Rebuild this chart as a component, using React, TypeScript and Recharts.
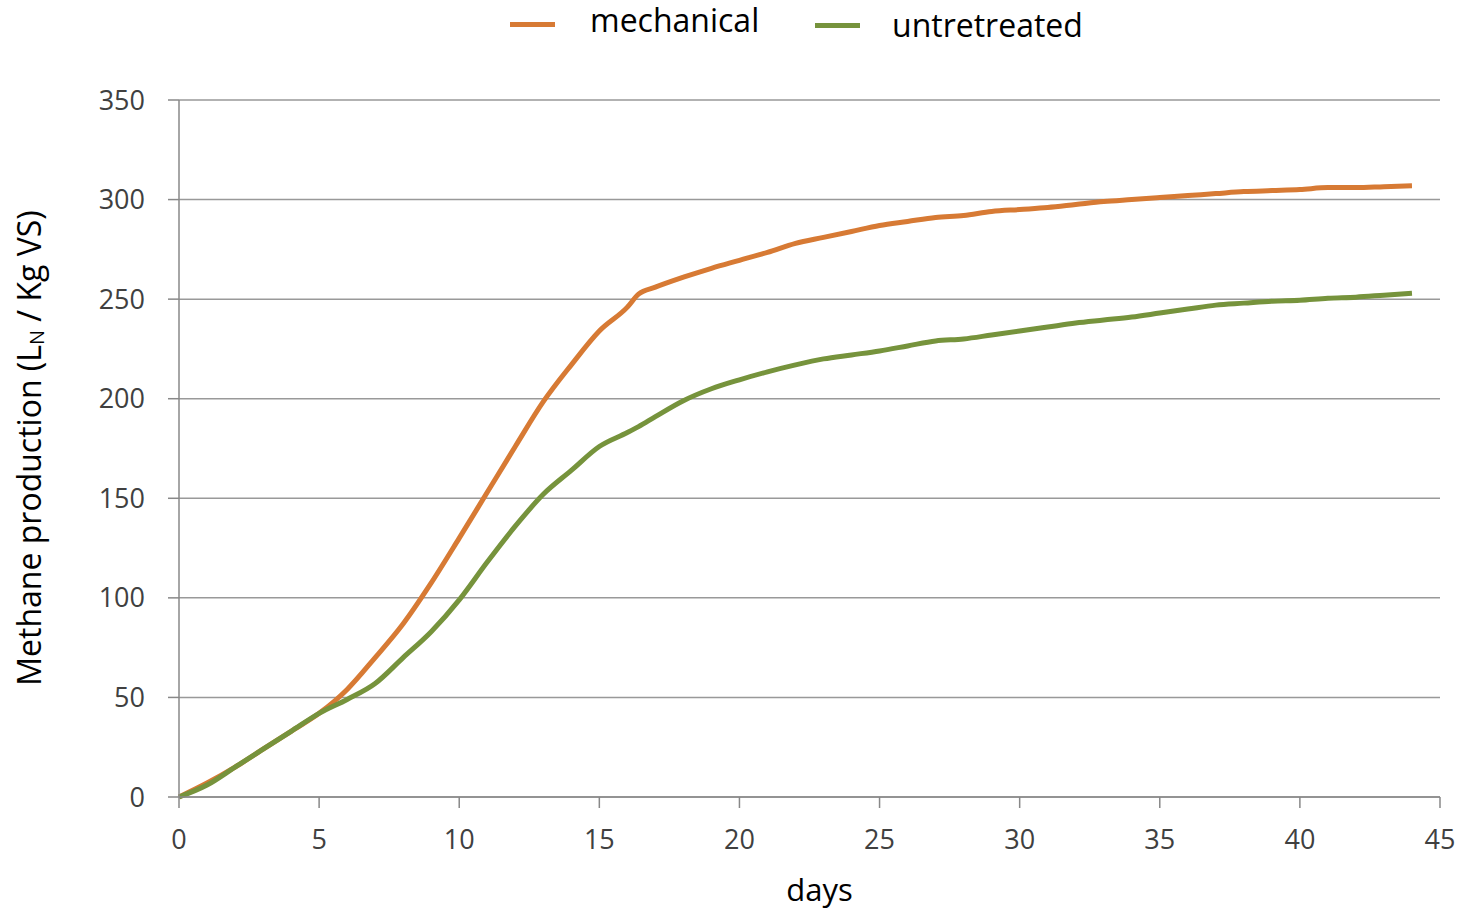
import React from "react";
import { LineChart, Line, XAxis, YAxis, CartesianGrid, Legend, Label } from "recharts";

const days = [0, 1, 2, 3, 4, 5, 6, 7, 8, 9, 10, 11, 12, 13, 14, 15, 16, 16.4, 17, 18, 19, 20, 21, 22, 23, 24, 25, 26, 27, 28, 29, 30, 31, 32, 33, 34, 35, 36, 37, 38, 39, 40, 41, 42, 43, 44];
const mechanical = [0, 7, 15, 24, 33, 42, 54, 70, 87, 107.5, 130, 153, 176, 198.5, 217, 234, 246, 252.5, 256, 261, 265.5, 269.5, 273.5, 278, 281, 284, 287, 289, 291, 292, 294, 295, 296, 297.5, 299, 300, 301, 302, 303, 304, 304.5, 305, 306, 306, 306.5, 307];
const untreated = [0, 6, 15, 24, 33, 42, 49, 57, 70, 83, 99, 118, 136, 152, 164, 176, 183, 186, 191, 199, 205, 209.5, 213.5, 217, 220, 222, 224, 226.5, 229, 230, 232, 234, 236, 238, 239.5, 241, 243, 245, 247, 248, 249, 249.5, 250.5, 251, 252, 253];
const xTicks = [0, 5, 10, 15, 20, 25, 30, 35, 40, 45];
const yTicks = [0, 50, 100, 150, 200, 250, 300, 350];

const data = days.map((d, i) => ({ day: d, mechanical: mechanical[i], untreated: untreated[i] }));

const ORANGE = "#D77A34";
const GREEN = "#76933C";
const FONT = "'Open Sans', sans-serif";

const LegendContent = () => (
  <div style={{ position: "relative", height: 50, fontFamily: FONT, fontSize: 32, color: "#000" }}>
    <div style={{ position: "absolute", left: 510, top: 22, width: 45, height: 5, background: ORANGE }} />
    <div style={{ position: "absolute", left: 590, top: 0, lineHeight: "40px", whiteSpace: "nowrap" }}>mechanical</div>
    <div style={{ position: "absolute", left: 815, top: 23, width: 45, height: 5, background: GREEN }} />
    <div style={{ position: "absolute", left: 892, top: 5, lineHeight: "40px", whiteSpace: "nowrap" }}>untretreated</div>
  </div>
);

const YLabel = (props: any) => {
  const cx = 28;
  const cy = 448;
  return (
    <text
      x={cx}
      y={cy}
      transform={`rotate(-90, ${cx}, ${cy})`}
      textAnchor="middle"
      dominantBaseline="central"
      fontFamily={FONT}
      fontSize={32}
      fill="#000"
    >
      Methane production (L<tspan fontSize={20} dy={8}>N</tspan>
      <tspan dy={-8}> / Kg VS)</tspan>
    </text>
  );
};

export default function App() {
  return (
    <div style={{ position: "absolute", left: 0, top: 0, width: 1460, height: 911, background: "#fff" }}>
      <LineChart
        width={1460}
        height={911}
        data={data}
        margin={{ top: 50, right: 20, bottom: 54, left: 119 }}
      >
        <CartesianGrid horizontal={true} vertical={false} stroke="#999" strokeWidth={1.5} />
        <XAxis
          dataKey="day"
          type="number"
          domain={[0, 45]}
          ticks={xTicks}
          height={60}
          tickSize={11}
          stroke="#888"
          strokeWidth={1.5}
          tick={{ fill: "#404040", fontSize: 27, fontFamily: FONT, dy: 20 }}
        >
          <Label value="days" position="insideBottom" offset={-44} dx={10} style={{ fontFamily: FONT, fontSize: 31, fill: "#000" }} />
        </XAxis>
        <YAxis
          type="number"
          domain={[0, 350]}
          ticks={yTicks}
          width={60}
          tickSize={11}
          stroke="#888"
          strokeWidth={1.5}
          tick={{ fill: "#404040", fontSize: 27, fontFamily: FONT, dx: -21 }}
          label={<YLabel />}
        />
        <Legend
          verticalAlign="top"
          content={<LegendContent />}
          wrapperStyle={{ position: "absolute", left: 0, top: 0, width: 1460, height: 50 }}
        />
        <Line type="monotone" dataKey="mechanical" stroke={ORANGE} strokeWidth={5} dot={false} isAnimationActive={false} />
        <Line type="monotone" dataKey="untreated" stroke={GREEN} strokeWidth={5} dot={false} isAnimationActive={false} />
      </LineChart>
    </div>
  );
}
